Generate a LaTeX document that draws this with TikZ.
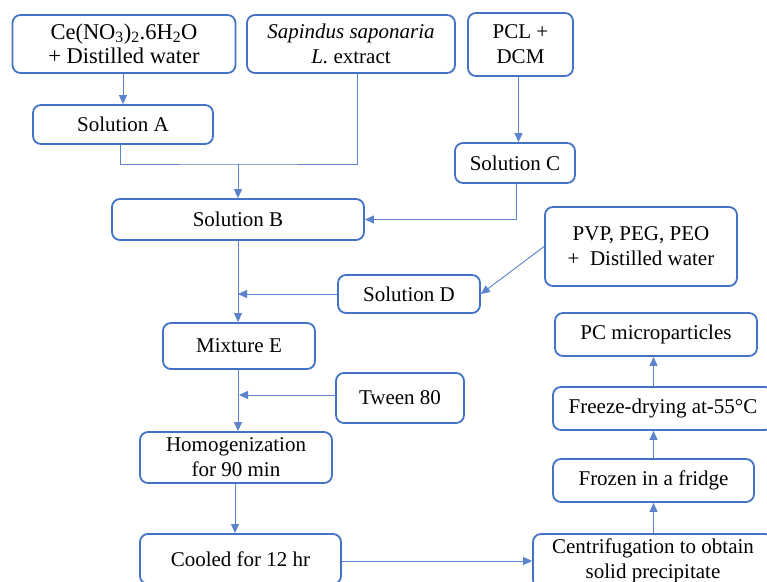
\documentclass[tikz,border=0pt]{standalone}
\usepackage{fontspec}
\setmainfont{Liberation Serif}
\usetikzlibrary{arrows.meta}
\definecolor{bxblue}{HTML}{4472C4}
\definecolor{lnblue}{HTML}{5B84CC}
\begin{document}
\begin{tikzpicture}[x=1pt,y=-1pt,
  box/.style={draw=bxblue,line width=1.8pt,rounded corners=8pt,fill=white,
    inner sep=0pt,align=center,font=\fontsize{21}{25}\selectfont},
  conn/.style={draw=lnblue,line width=0.9pt},
  arr/.style={conn,-{Triangle[length=9pt,width=8pt]}}]
\useasboundingbox (0,0) rectangle (767,581);
\node[box,minimum width=223pt,minimum height=58pt,font=\fontsize{22.5}{24.5}\selectfont] (ce) at (124,44)
  {Ce(NO\textsubscript{3})\textsubscript{2}.6H\textsubscript{2}O\\+ Distilled water};
\node[box,minimum width=208pt,minimum height=58pt] (sap) at (351,44)
  {\textit{Sapindus saponaria}\\\textit{L.} extract};
\node[box,minimum width=105pt,minimum height=63pt] (pcl) at (520.5,44.5)
  {PCL +\\DCM};
\node[box,minimum width=180pt,minimum height=39pt] (solA) at (123,124.5) {Solution A};
\node[box,minimum width=120pt,minimum height=40pt] (solC) at (515,163) {Solution C};
\node[box,minimum width=252pt,minimum height=41pt] (solB) at (238,219.5) {Solution B};
\node[box,minimum width=192pt,minimum height=79pt] (pvp) at (641,246.5)
  {PVP, PEG, PEO\\+\ \ Distilled water};
\node[box,minimum width=142pt,minimum height=38pt] (solD) at (409,294) {Solution D};
\node[box,minimum width=152pt,minimum height=46pt] (mixE) at (239,346) {Mixture E};
\node[box,minimum width=128pt,minimum height=50pt] (tween) at (400,398) {Tween 80};
\node[box,minimum width=192pt,minimum height=51pt] (hom) at (236,457.5)
  {Homogenization\\for 90 min};
\node[box,minimum width=201pt,minimum height=50pt] (cool) at (240.5,559) {Cooled for 12 hr};
\node[box,minimum width=240pt,minimum height=54pt] (cent) at (653,561)
  {Centrifugation to obtain\\solid precipitate};
\node[box,minimum width=201pt,minimum height=43pt] (frozen) at (653.5,480.5) {Frozen in a fridge};
\node[box,minimum width=220pt,minimum height=43pt] (freeze) at (663,408.5) {Freeze-drying at-55°C};
\node[box,minimum width=202pt,minimum height=43pt] (pc) at (656,334.5) {PC microparticles};
\coordinate (j) at (238,164);
% connectors
\draw[arr] (ce.south -| solA.north) -- (solA.north);
\draw[conn] ([xshift=-3pt]solA.south) |- (j) -| ([xshift=6pt]sap.south);
\draw[arr] (j) -- (solB.north);
\draw[arr] ([xshift=-2pt]pcl.south) -- ([xshift=-2pt]pcl.south |- solC.north);
\draw[arr] ([xshift=1pt]solC.south) |- (solB.east);
\draw[arr] (pvp.west) -- (solD.east);
\draw[arr] (solD.west) -- (solD.west -| solB.south);
\draw[arr] (solB.south) -- (solB.south |- mixE.north);
\draw[arr] ([yshift=3pt]tween.west) -- ([yshift=3pt]tween.west -| mixE.south);
\draw[arr] (mixE.south -| solB.south) -- (solB.south |- hom.north);
\draw[arr] ([xshift=-1pt]hom.south) -- ([xshift=-1pt]hom.south |- cool.north);
\draw[arr] ([yshift=-2pt]cool.east) -- ([yshift=-2pt]cool.east -| cent.west);
\draw[arr] (cent.north -| frozen.south) -- (frozen.south);
\draw[arr] (frozen.north) -- (frozen.north |- freeze.south);
\draw[arr] (frozen.north |- freeze.north) -- (frozen.north |- pc.south);
\end{tikzpicture}
\end{document}
